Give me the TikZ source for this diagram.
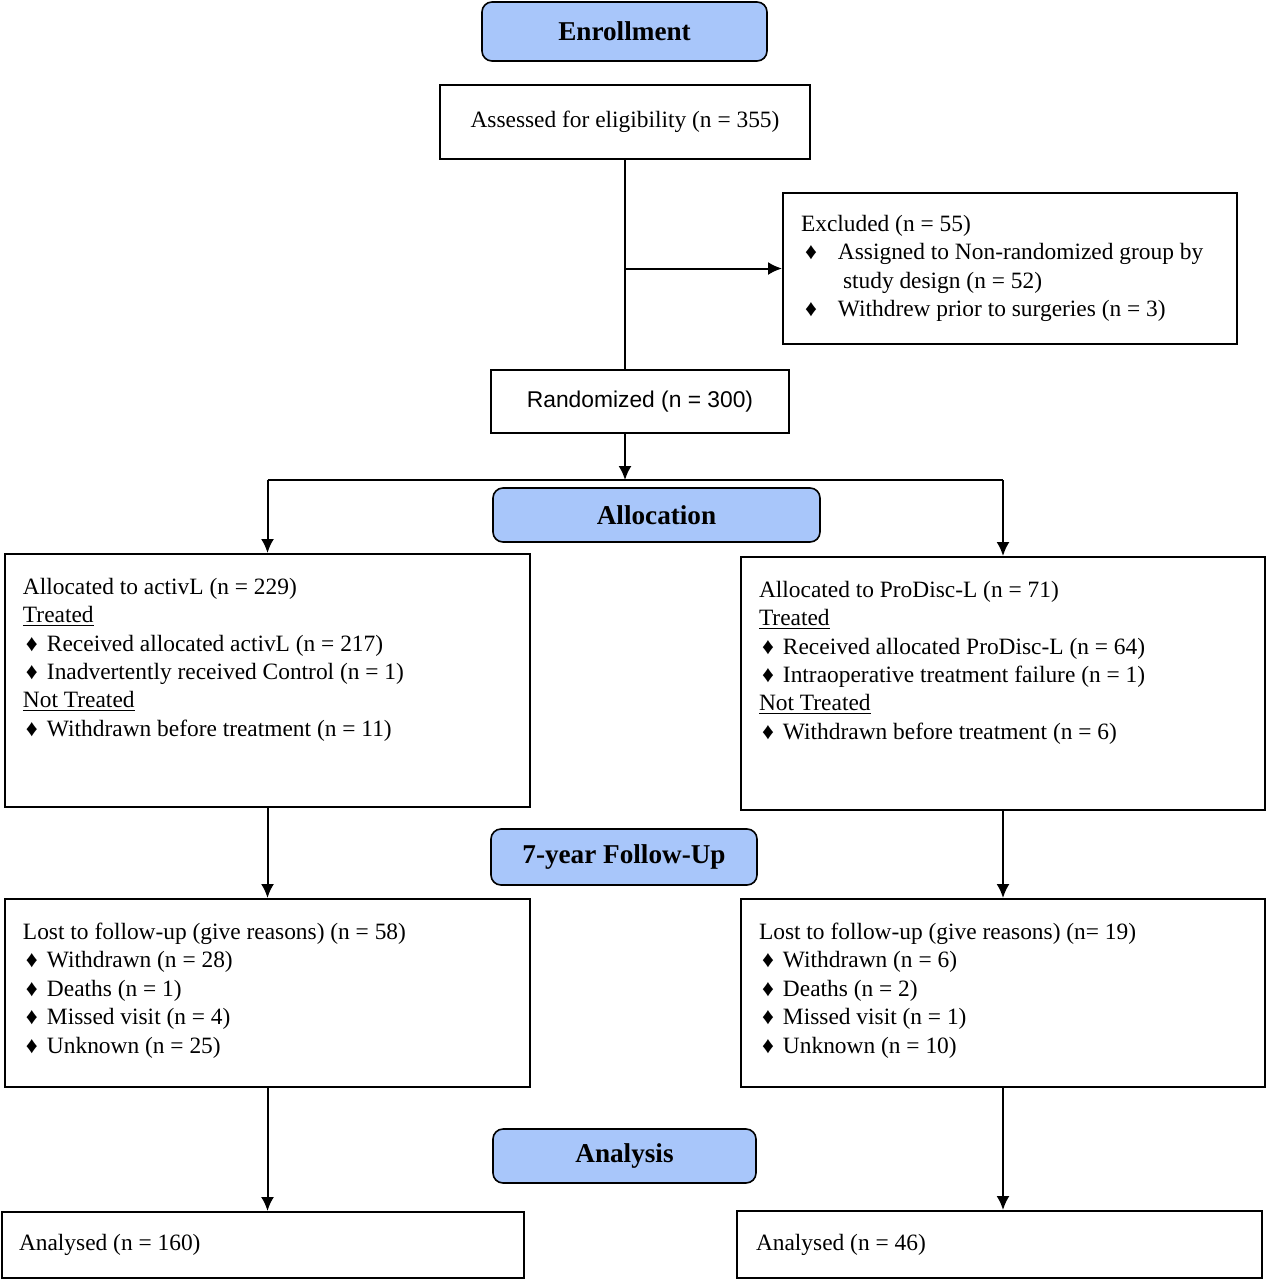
\documentclass[tikz,border=0pt]{standalone}
\usepackage{fontspec}
\setmainfont{Liberation Serif}
\newfontfamily\arialfont{Liberation Sans}
\usepackage{tikz}
\usetikzlibrary{arrows.meta}
\definecolor{stageblue}{RGB}{168,198,250}
\newcommand{\topbox}[3]{\parbox[c][#1][t]{#2}{\raggedright #3}}
\newcommand{\dia}{\makebox[12pt][l]{\hspace{1.5pt}♦}}

\begin{document}
\begin{tikzpicture}[x=0.5pt,y=-0.5pt,line width=1pt,
  every node/.style={font=\fontsize{11.7}{14.2}\selectfont},
  stage/.style={draw, line width=0.8pt, rounded corners=5pt, fill=stageblue, font=\bfseries\fontsize{13.6}{16}\selectfont},
  plain/.style={draw, inner sep=0pt},
  listbox/.style={draw, inner xsep=9pt, inner ysep=12pt},
  arr/.style={-{Latex[length=7pt,width=6.5pt]}}]
\useasboundingbox (0,0) rectangle (1267,1280);

\node[stage, minimum width=142.5pt, minimum height=29.5pt] (enroll) at (624.5,31.5) {Enrollment};
\node[plain, minimum width=185pt, minimum height=37pt] (assess) at (625,122) {Assessed for eligibility (n = 355)};
\node[draw, text width=209pt, inner xsep=9pt, minimum height=75.5pt, align=flush left] (excl) at (1010,268.5) {Excluded (n = 55)\\
  \hspace*{2pt}\makebox[16.5pt][l]{♦}Assigned to Non-randomized group by\\
  \hspace*{21pt}study design (n = 52)\\
  \hspace*{2pt}\makebox[16.5pt][l]{♦}Withdrew prior to surgeries (n = 3)};
\node[plain, font=\arialfont\fontsize{11.4}{14}\selectfont, minimum width=149pt, minimum height=31.5pt] (rand) at (640,401.5) {Randomized (n = 300)};

\node[stage, minimum width=163.5pt, minimum height=27pt] (alloc) at (656.5,515) {Allocation};
\node[listbox] (allocL) at (267.5,680.5) {\topbox{102.5pt}{244.5pt}{Allocated to activL (n = 229)\\
  \underline{Treated}\\
  \dia Received allocated activL (n = 217)\\
  \dia Inadvertently received Control (n = 1)\\
  \underline{Not Treated}\\
  \dia Withdrawn before treatment (n = 11)}};
\node[listbox] (allocR) at (1003,683.5) {\topbox{102.5pt}{244pt}{Allocated to ProDisc-L (n = 71)\\
  \underline{Treated}\\
  \dia Received allocated ProDisc-L (n = 64)\\
  \dia Intraoperative treatment failure (n = 1)\\
  \underline{Not Treated}\\
  \dia Withdrawn before treatment (n = 6)}};

\node[stage, minimum width=133pt, minimum height=28pt] (follow) at (624,857) {7-year Follow-Up};
\node[listbox] (lostL) at (267.5,993) {\topbox{70pt}{244.5pt}{Lost to follow-up (give reasons) (n = 58)\\
  \dia Withdrawn (n = 28)\\
  \dia Deaths (n = 1)\\
  \dia Missed visit (n = 4)\\
  \dia Unknown (n = 25)}};
\node[listbox] (lostR) at (1003,993) {\topbox{70pt}{244pt}{Lost to follow-up (give reasons) (n= 19)\\
  \dia Withdrawn (n = 6)\\
  \dia Deaths (n = 2)\\
  \dia Missed visit (n = 1)\\
  \dia Unknown (n = 10)}};

\node[stage, minimum width=131.5pt, minimum height=27pt] (analysis) at (624.5,1156) {Analysis};
\node[draw, text width=244pt, inner xsep=8.5pt, minimum height=33pt, align=flush left] (anaL) at (263,1245) {Analysed (n = 160)};
\node[draw, text width=243.5pt, inner xsep=9.5pt, minimum height=33.5pt, align=flush left] (anaR) at (999.5,1244.5) {Analysed (n = 46)};

\coordinate (split) at (625,480);
\draw (assess.south) -- (assess.south |- rand.north);
\draw[arr] (assess.south |- excl.west) -- (excl.west);
\draw[arr] (assess.south |- rand.south) -- (split);
\draw (allocL.north |- split) -- (allocR.north |- split);
\draw[arr] (allocL.north |- split) -- (allocL.north);
\draw[arr] (allocR.north |- split) -- (allocR.north);
\draw[arr] (allocL) -- (lostL);
\draw[arr] (allocR) -- (lostR);
\draw[arr] (lostL.south) -- (lostL.south |- anaL.north);
\draw[arr] (lostR.south) -- (lostR.south |- anaR.north);
\end{tikzpicture}
\end{document}
